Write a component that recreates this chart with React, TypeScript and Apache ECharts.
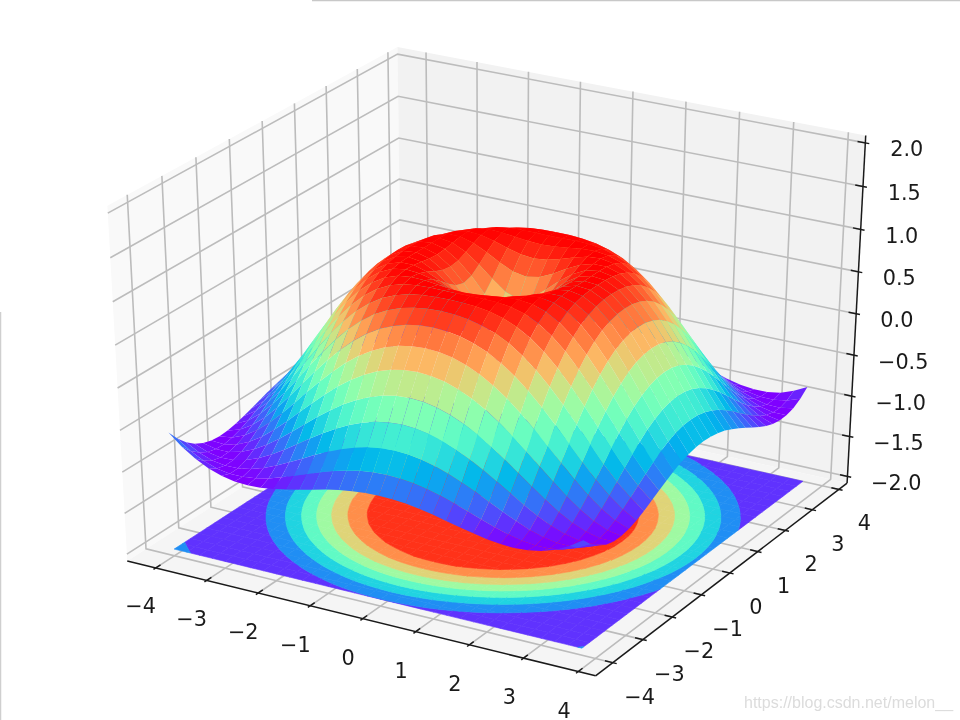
import React, { useEffect, useRef } from "react";
import * as echarts from "echarts";

// Sample positions of the surface along x and along y
const gridCoords = [-4,-3.75,-3.5,-3.25,-3,-2.75,-2.5,-2.25,-2,-1.75,-1.5,-1.25,-1,-0.75,-0.5,-0.25,0,0.25,0.5,0.75,1,1.25,1.5,1.75,2,2.25,2.5,2.75,3,3.25,3.5,3.75];

// Surface heights. The surface has eightfold symmetry about the origin, so one
// triangular wedge is kept: surfaceWedge[a][b], a >= b, in quarter-unit steps from the centre.
const surfaceWedge = [
  [0],
  [0.247,0.346],
  [0.479,0.530,0.650],
  [0.682,0.711,0.784,0.873],
  [0.841,0.857,0.899,0.949,0.988],
  [0.949,0.957,0.975,0.994,1.000,0.981],
  [0.997,0.999,1.000,0.994,0.973,0.928,0.853],
  [0.984,0.981,0.969,0.945,0.903,0.836,0.742,0.619],
  [0.909,0.903,0.882,0.844,0.787,0.706,0.598,0.465,0.308],
  [0.778,0.769,0.742,0.696,0.629,0.537,0.424,0.287,0.131,-0.040],
  [0.598,0.588,0.558,0.507,0.434,0.340,0.225,0.090,-0.060,-0.220,-0.384],
  [0.382,0.371,0.340,0.287,0.214,0.121,0.009,-0.118,-0.256,-0.400,-0.544,-0.680],
  [0.141,0.131,0.100,0.049,-0.021,-0.108,-0.211,-0.325,-0.449,-0.572,-0.692,-0.800,-0.891],
  [-0.108,-0.118,-0.146,-0.192,-0.256,-0.334,-0.424,-0.522,-0.624,-0.725,-0.818,-0.898,-0.957,-0.993],
  [-0.351,-0.359,-0.384,-0.424,-0.478,-0.544,-0.617,-0.698,-0.776,-0.851,-0.917,-0.966,-0.995,-0.998,-0.972],
  [-0.572,-0.579,-0.599,-0.630,-0.674,-0.725,-0.781,-0.839,-0.895,-0.944,-0.980,-0.998,-0.996,-0.970,-0.913,-0.831],
  [-0.757,-0.762,-0.776,-0.800,-0.831,-0.870,-0.905,-0.940,-0.971,-0.992,-1.000,-0.990,-0.959,-0.906,-0.824,-0.719,-0.586],
];

const contourLevels = [-1,-0.75,-0.5,-0.25,0,0.25,0.5,0.75,1];
const contourOffset = [-2];

const xTicks = [-4,-3,-2,-1,0,1,2,3,4];
const yTicks = [-4,-3,-2,-1,0,1,2,3,4];
const zTicks = [-2,-1.5,-1,-0.5,0,0.5,1,1.5,2];
const xTickLabels = ["−4","−3","−2","−1","0","1","2","3","4"];
const yTickLabels = ["−4","−3","−2","−1","0","1","2","3","4"];
const zTickLabels = ["−2.0","−1.5","−1.0","−0.5","0.0","0.5","1.0","1.5","2.0"];

const xLim = [-4.3875, 4.1375];
const yLim = [-4.3875, 4.1375];
const zLim = [-2, 2];
const watermark = "https://blog.csdn.net/melon__";

const W = 960, H = 720;
const elev = 30 * Math.PI / 180, azim = -60 * Math.PI / 180, dist = 10;

type V3 = [number, number, number];
const dot = (a: V3, b: V3) => a[0]*b[0] + a[1]*b[1] + a[2]*b[2];
const norm3 = (a: V3): V3 => { const m = Math.sqrt(dot(a,a)); return [a[0]/m, a[1]/m, a[2]/m]; };
const cross = (a: V3, b: V3): V3 => [a[1]*b[2]-a[2]*b[1], a[2]*b[0]-a[0]*b[2], a[0]*b[1]-a[1]*b[0]];
const nV = norm3([Math.cos(azim)*Math.cos(elev), Math.sin(azim)*Math.cos(elev), Math.sin(elev)]);
const uV = norm3(cross([0,0,1], nV));
const vV = cross(nV, uV);

// The 3D view: data space -> unit box -> perspective -> page pixels
function project(x: number, y: number, z: number) {
  const p: V3 = [
    (x-xLim[0])/(xLim[1]-xLim[0]) - 0.5,
    (y-yLim[0])/(yLim[1]-yLim[0]) - 0.5,
    (z-zLim[0])/(zLim[1]-zLim[0]) - 0.5,
  ];
  const w = dist - dot(nV, p);
  const xp = dot(uV, p)/w, yp = dot(vV, p)/w;
  return { px: (xp+0.095)/0.185*W, py: H-(yp+0.095)/0.185*H, depth: -10/w };
}
const pt = (x: number, y: number, z: number) => { const q = project(x,y,z); return [q.px, q.py]; };

function rainbow(t: number) {
  const c = (v: number) => Math.round(Math.max(0, Math.min(1, v))*255);
  return `rgb(${c(Math.abs(2*t-0.5))},${c(Math.sin(Math.PI*t))},${c(Math.cos(Math.PI*t/2))})`;
}

function zAt(i: number, j: number) {
  const a = Math.abs(i-16), b = Math.abs(j-16);
  return surfaceWedge[Math.max(a,b)][Math.min(a,b)];
}

// pane box, one 48th wider than the limits on each side
const dx = (xLim[1]-xLim[0])/12, dy = (yLim[1]-yLim[0])/12, dz = (zLim[1]-zLim[0])/12;
const X0 = xLim[0]-dx/4, X1 = xLim[1]+dx/4;
const Y0 = yLim[0]-dy/4, Y1 = yLim[1]+dy/4;
const Z0 = zLim[0]-dz/4, Z1 = zLim[1]+dz/4;

type Elem = any;
const panes: Elem[] = [
  { type:"polygon", shape:{points:[pt(X0,Y0,Z0),pt(X0,Y1,Z0),pt(X0,Y1,Z1),pt(X0,Y0,Z1)]}, style:{fill:"#f9f9f9"} },
  { type:"polygon", shape:{points:[pt(X0,Y1,Z0),pt(X1,Y1,Z0),pt(X1,Y1,Z1),pt(X0,Y1,Z1)]}, style:{fill:"#f2f2f2"} },
  { type:"polygon", shape:{points:[pt(X0,Y0,Z0),pt(X1,Y0,Z0),pt(X1,Y1,Z0),pt(X0,Y1,Z0)]}, style:{fill:"#f5f5f5"} },
];

const GRID = "#bcbcbc", AXIS = "#1a1a1a";
const gridStyle = { fill:"none", stroke:GRID, lineWidth:1.6 };
const axisStyle = { stroke:AXIS, lineWidth:1.5 };
const poly = (points: number[][], style: any): Elem => ({ type:"polyline", shape:{points}, style });
const seg = (a: number[], b: number[]): Elem => ({ type:"line", shape:{x1:a[0],y1:a[1],x2:b[0],y2:b[1]}, style:axisStyle });
const label = (p: number[], text: string, align: string, shiftX: number, shiftY: number): Elem => ({
  type:"text", x:p[0]+shiftX, y:p[1]+shiftY,
  style:{ text, fontFamily:'"DejaVu Sans"', fontSize:20.8, fill:"#1a1a1a", align, verticalAlign:"middle" },
});

const LABEL_OUT = 0.6845, TICK_OUT = 0.1, TICK_IN = 0.2;
const LABEL_DROP = 28; // x and y tick labels hang below their anchor
const frame: Elem[] = [];
xTicks.forEach((x) => {
  frame.push(poly([pt(x,Y0,Z0),pt(x,Y1,Z0),pt(x,Y1,Z1)], gridStyle));
});
yTicks.forEach((y) => {
  frame.push(poly([pt(X1,y,Z0),pt(X0,y,Z0),pt(X0,y,Z1)], gridStyle));
});
zTicks.forEach((z) => {
  frame.push(poly([pt(X0,Y0,z),pt(X0,Y1,z),pt(X1,Y1,z)], gridStyle));
});
frame.push(seg(pt(X0,Y0,Z0),pt(X1,Y0,Z0)), seg(pt(X1,Y0,Z0),pt(X1,Y1,Z0)), seg(pt(X1,Y1,Z0),pt(X1,Y1,Z1)));
xTicks.forEach((x, k) => {
  frame.push(seg(pt(x,Y0+TICK_IN*dy,Z0),pt(x,Y0-TICK_OUT*dy,Z0)));
  frame.push(label(pt(x,Y0-LABEL_OUT*dy,Z0), xTickLabels[k], "center", 1, LABEL_DROP));
});
yTicks.forEach((y, k) => {
  frame.push(seg(pt(X1-TICK_IN*dx,y,Z0),pt(X1+TICK_OUT*dx,y,Z0)));
  frame.push(label(pt(X1+LABEL_OUT*dx,y,Z0), yTickLabels[k], "center", 0, LABEL_DROP));
});
zTicks.forEach((z, k) => {
  frame.push(seg(pt(X1-TICK_IN*dx,Y1,z),pt(X1+TICK_OUT*dx,Y1,z)));
  frame.push(label(pt(X1+LABEL_OUT*dx,Y1,z), zTickLabels[k], "left", -2, 1));
});

// Filled contours on the floor: each grid cell clipped to each level band
type P = [number, number, number];
function clip(polyIn: P[], level: number, keepAbove: boolean): P[] {
  const out: P[] = [];
  const inside = (p: P) => keepAbove ? p[2] >= level : p[2] <= level;
  polyIn.forEach((a, idx) => {
    const b = polyIn[(idx+1)%polyIn.length];
    const ia = inside(a), ib = inside(b);
    if (ia) out.push(a);
    if (ia !== ib) {
      const t = (level-a[2])/(b[2]-a[2]);
      out.push([a[0]+t*(b[0]-a[0]), a[1]+t*(b[1]-a[1]), level]);
    }
  });
  return out;
}
const floorParts: Elem[] = [];
for (let i = 0; i < gridCoords.length-1; i++) {
  for (let j = 0; j < gridCoords.length-1; j++) {
    const quad: P[] = [
      [gridCoords[i],gridCoords[j],zAt(i,j)],
      [gridCoords[i+1],gridCoords[j],zAt(i+1,j)],
      [gridCoords[i+1],gridCoords[j+1],zAt(i+1,j+1)],
      [gridCoords[i],gridCoords[j+1],zAt(i,j+1)],
    ];
    for (let b = 0; b < contourLevels.length-1; b++) {
      const lo = contourLevels[b], hi = contourLevels[b+1];
      const piece = clip(clip(quad, lo, true), hi, false);
      if (piece.length < 3) continue;
      const mid = (lo+hi)/2;
      const col = rainbow((mid-contourLevels[0])/(contourLevels[contourLevels.length-1]-contourLevels[0]));
      floorParts.push({
        type:"polygon",
        shape:{points:piece.map(p => pt(p[0],p[1],contourOffset[0]))},
        style:{fill:col, stroke:col, lineWidth:0.6},
      });
    }
  }
}

// Surface cells, far to near
const cells: { pts: number[][]; avg: number; depth: number }[] = [];
for (let i = 0; i < gridCoords.length-1; i++) {
  for (let j = 0; j < gridCoords.length-1; j++) {
    const idx = [[i,j],[i+1,j],[i+1,j+1],[i,j+1]];
    const q = idx.map(([a,b]) => project(gridCoords[a],gridCoords[b],zAt(a,b)));
    cells.push({
      pts: q.map(p => [p.px,p.py]),
      avg: idx.reduce((s,[a,b]) => s+zAt(a,b),0)/4,
      depth: q.reduce((s,p) => s+p.depth,0)/4,
    });
  }
}
cells.sort((a,b) => b.depth-a.depth);
const avgMin = Math.min(...cells.map(c => c.avg));
const avgMax = Math.max(...cells.map(c => c.avg));
const surfaceParts: Elem[] = cells.map(c => ({
  type:"polygon",
  shape:{points:c.pts},
  style:{fill:rainbow((c.avg-avgMin)/(avgMax-avgMin))},
}));

function layer(name: string, parts: Elem[], z: number) {
  return {
    type:"custom", name, coordinateSystem:"none", silent:true, z, progressive:0,
    data: parts.map((_, k) => [k]),
    renderItem: (params: any) => ({ ...parts[params.dataIndex], z2: params.dataIndex }),
  };
}

export default function App() {
  const ref = useRef<HTMLDivElement>(null);
  useEffect(() => {
    document.body.style.margin = "0";
    const chart = echarts.init(ref.current!, undefined, { renderer:"svg" });
    chart.setOption({
      animation:false,
      backgroundColor:"#ffffff",
      tooltip:{show:false},
      series:[
        layer("panes", panes, 1),
        layer("frame", frame, 2),
        layer("floor", floorParts, 3),
        layer("surface", surfaceParts, 4),
      ],
      graphic:[
        { type:"line", silent:true, z:10, shape:{x1:312,y1:0.5,x2:960,y2:0.5}, style:{stroke:"#c8c8c8",lineWidth:1.5} },
        { type:"line", silent:true, z:10, shape:{x1:0.5,y1:312,x2:0.5,y2:720}, style:{stroke:"#cfcfcf",lineWidth:1.5} },
        { type:"text", silent:true, z:10, x:744, y:702, style:{ text:watermark, fontFamily:'"Liberation Sans"', fontSize:16, fill:"#dcdcdc", align:"left", verticalAlign:"middle" } },
      ],
    });
    return () => chart.dispose();
  }, []);
  return <div ref={ref} style={{ width:W, height:H, filter:"blur(0.7px)" }} />;
}
